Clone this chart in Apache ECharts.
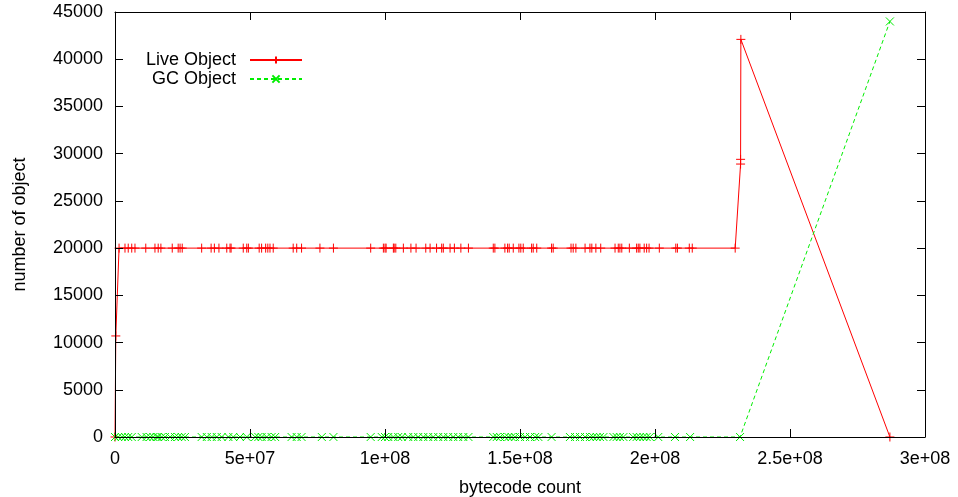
<!DOCTYPE html>
<html>
<head>
<meta charset="utf-8">
<script src="https://cdn.jsdelivr.net/npm/echarts@6/dist/echarts.min.js"></script>
<style>
  html, body { margin: 0; padding: 0; background: #fff; }
  #chart { width: 958px; height: 497px; }
</style>
</head>
<body>
<div id="chart"></div>
<script>
// Bytecode counts are listed in millions to keep the tables short.
const UNIT = 1e6;

// Live objects: [bytecode count (millions), reachable objects]
const livePoints = [
  [0, 0], [0.3, 10700], [1.5, 20000], [3.7, 20000], [4.9, 20000], [6.2, 20000],
  [7.4, 20000], [11.4, 20000], [14.8, 20000], [16.0, 20000], [17.0, 20000],
  [21.2, 20000], [23.4, 20000], [24.1, 20000], [24.9, 20000], [32.1, 20000],
  [35.6, 20000], [36.8, 20000], [38.5, 20000], [41.4, 20000], [42.6, 20000],
  [43.0, 20000], [47.5, 20000], [48.8, 20000], [49.4, 20000], [53.4, 20000],
  [54.3, 20000], [55.8, 20000], [56.6, 20000], [57.4, 20000], [58.6, 20000],
  [66.0, 20000], [67.3, 20000], [69.1, 20000], [75.9, 20000], [80.9, 20000],
  [94.7, 20000], [99.4, 20000], [100.0, 20000], [100.4, 20000], [103.1, 20000],
  [103.4, 20000], [104.0, 20000], [106.8, 20000], [109.6, 20000], [111.5, 20000],
  [115.1, 20000], [116.7, 20000], [119.1, 20000], [121.0, 20000], [121.6, 20000],
  [124.1, 20000], [125.7, 20000], [128.1, 20000], [130.9, 20000], [140.1, 20000],
  [140.7, 20000], [144.4, 20000], [145.4, 20000], [146.0, 20000], [147.5, 20000],
  [149.6, 20000], [150.3, 20000], [151.2, 20000], [154.3, 20000], [154.9, 20000],
  [156.2, 20000], [161.7, 20000], [162.3, 20000], [168.9, 20000], [169.7, 20000],
  [170.7, 20000], [174.1, 20000], [175.9, 20000], [176.6, 20000], [178.1, 20000],
  [179.9, 20000], [185.2, 20000], [186.4, 20000], [187.0, 20000], [187.7, 20000],
  [190.5, 20000], [193.2, 20000], [193.8, 20000], [194.4, 20000], [196.0, 20000],
  [196.9, 20000], [197.8, 20000], [201.6, 20000], [207.7, 20000], [208.3, 20000],
  [212.7, 20000], [213.8, 20000], [229.7, 20000], [231.7, 28900], [231.7, 29400],
  [231.8, 42100], [287.0, 0]
];

// GC objects: [bytecode count (millions), collected objects]
const gcPoints = [
  [0, 0], [1.2, 0], [2.5, 0], [3.7, 0], [4.9, 0], [6.2, 0], [9.9, 0], [11.7, 0],
  [13.0, 0], [14.2, 0], [15.4, 0], [16.0, 0], [17.3, 0], [18.5, 0], [20.4, 0],
  [22.2, 0], [23.4, 0], [24.7, 0], [25.9, 0], [32.1, 0], [34.0, 0], [35.8, 0],
  [37.7, 0], [39.5, 0], [42.0, 0], [43.8, 0], [46.3, 0], [48.8, 0], [51.9, 0],
  [53.1, 0], [54.3, 0], [56.2, 0], [58.0, 0], [59.3, 0], [65.4, 0], [67.3, 0],
  [69.1, 0], [76.6, 0], [80.9, 0], [94.7, 0], [98.8, 0], [100.0, 0], [101.2, 0],
  [103.1, 0], [104.9, 0], [106.2, 0], [108.6, 0], [110.5, 0], [112.3, 0],
  [114.2, 0], [116.0, 0], [117.9, 0], [119.7, 0], [121.6, 0], [123.4, 0],
  [125.3, 0], [127.1, 0], [129.0, 0], [130.9, 0], [140.1, 0], [141.4, 0],
  [142.6, 0], [144.4, 0], [145.7, 0], [146.9, 0], [148.1, 0], [150.0, 0],
  [151.9, 0], [153.7, 0], [155.6, 0], [156.8, 0], [161.7, 0], [168.5, 0],
  [170.4, 0], [172.2, 0], [174.1, 0], [175.9, 0], [177.1, 0], [178.4, 0],
  [179.6, 0], [180.9, 0], [184.6, 0], [185.8, 0], [187.0, 0], [188.3, 0],
  [191.9, 0], [193.2, 0], [194.4, 0], [195.7, 0], [196.9, 0], [198.1, 0],
  [201.2, 0], [207.4, 0], [213.0, 0], [231.5, 0], [287.0, 44000]
];

const seriesNames = ['Live Object', 'GC Object'];
const xAxisTitle = 'bytecode count';
const yAxisTitle = 'number of object';

const FONT = '"Liberation Sans", Arial, Helvetica, sans-serif';
const RED = '#ff0000';
const GREEN = '#00ee00';

function toAxisUnits(points) {
  return points.map(p => [p[0] * UNIT, p[1]]);
}

// gnuplot-style exponent labels: 5e+07, 1.5e+08 ...
function expLabel(v) {
  if (v === 0) return '0';
  return v.toExponential().replace(/e([+-])(\d)$/, 'e$10$2');
}

const PLUS = 'path://M0,5L10,5M5,0L5,10';
const CROSS = 'path://M0,0L10,10M10,0L0,10';

const frameLine = { show: true, onZero: false, lineStyle: { color: '#000', width: 1 } };
const inTick = { show: true, inside: true, length: 8, lineStyle: { color: '#000', width: 1 } };
const labelStyle = { fontFamily: FONT, fontSize: 18, color: '#000' };

const chart = echarts.init(document.getElementById('chart'), null, { renderer: 'canvas' });

chart.setOption({
  animation: false,
  backgroundColor: '#fff',
  grid: {
    left: 115, right: 33, top: 12, bottom: 60,
    containLabel: false, outerBoundsMode: 'none'
  },
  legend: {
    orient: 'vertical',
    align: 'right',
    right: 655,
    top: 51,
    padding: 0,
    itemWidth: 52,
    itemHeight: 9,
    itemGap: 1,
    selectedMode: false,
    textStyle: { fontFamily: FONT, fontSize: 18, color: '#000', padding: [0, 9, 0, 0] },
    data: seriesNames
  },
  xAxis: [
    {
      type: 'value', position: 'bottom', min: 0, max: 3e8, interval: 5e7, z: 10,
      name: xAxisTitle, nameLocation: 'middle', nameGap: 42,
      nameTextStyle: labelStyle,
      axisLine: frameLine, axisTick: inTick, splitLine: { show: false },
      axisLabel: Object.assign({ margin: 13, formatter: expLabel }, labelStyle)
    },
    {
      type: 'value', position: 'top', min: 0, max: 3e8, interval: 5e7, z: 10,
      axisLine: frameLine, axisTick: inTick, splitLine: { show: false },
      axisLabel: { show: false }
    }
  ],
  yAxis: [
    {
      type: 'value', position: 'left', min: 0, max: 45000, interval: 5000, z: 10,
      name: yAxisTitle, nameLocation: 'middle', nameGap: 86,
      nameTextStyle: labelStyle,
      axisLine: frameLine, axisTick: inTick, splitLine: { show: false },
      axisLabel: Object.assign({ margin: 12, formatter: v => String(v) }, labelStyle)
    },
    {
      type: 'value', position: 'right', min: 0, max: 45000, interval: 5000, z: 10,
      axisLine: frameLine, axisTick: inTick, splitLine: { show: false },
      axisLabel: { show: false }
    }
  ],
  series: [
    {
      name: seriesNames[0],
      type: 'line',
      xAxisIndex: 0, yAxisIndex: 0,
      data: toAxisUnits(livePoints),
      symbol: PLUS,
      symbolSize: 9,
      showSymbol: true,
      showAllSymbol: true,
      lineStyle: { color: RED, width: 1 },
      itemStyle: { color: RED, borderColor: RED, borderWidth: 1 },
      emphasis: { disabled: true }
    },
    {
      name: seriesNames[1],
      type: 'line',
      xAxisIndex: 0, yAxisIndex: 0,
      data: toAxisUnits(gcPoints),
      symbol: CROSS,
      symbolSize: 8,
      showSymbol: true,
      showAllSymbol: true,
      lineStyle: { color: GREEN, width: 1, type: [4, 3] },
      itemStyle: { color: GREEN, borderColor: GREEN, borderWidth: 1 },
      emphasis: { disabled: true }
    }
  ]
});
</script>
</body>
</html>
